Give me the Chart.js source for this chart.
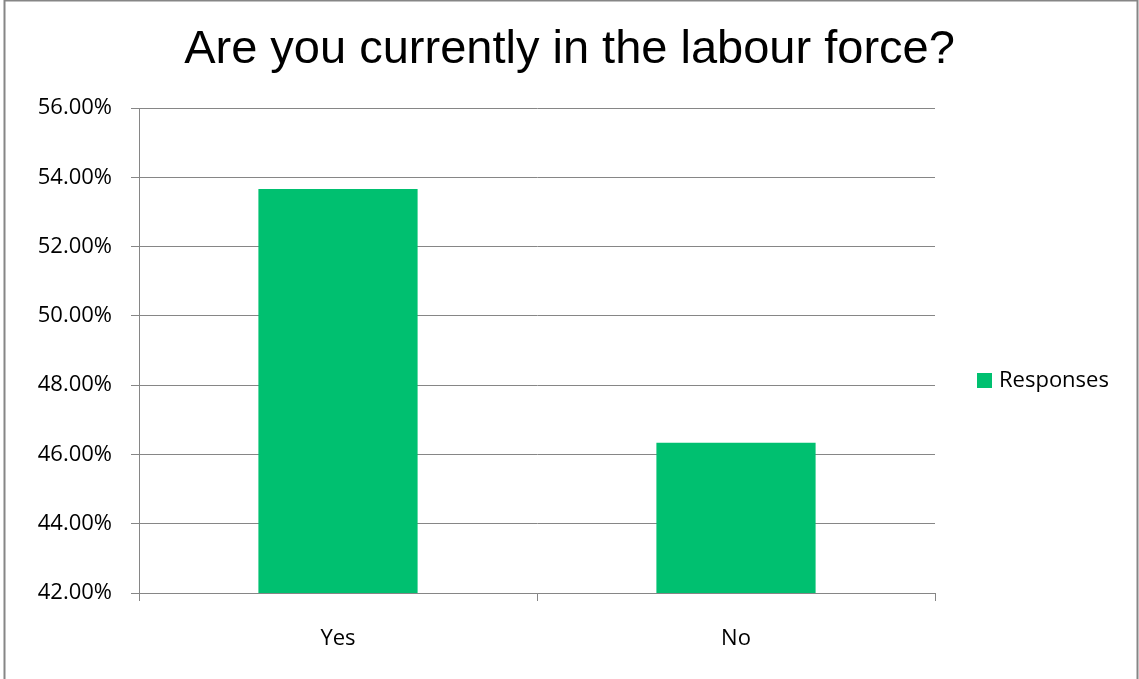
<!DOCTYPE html>
<html>
<head>
<meta charset="utf-8">
<script src="https://cdn.jsdelivr.net/npm/chart.js@4"></script>
<style>
  html, body { margin: 0; padding: 0; background: #fff; }
  #wrap { width: 1139px; height: 679px; }
</style>
</head>
<body>
<div id="wrap"><canvas id="labourChart" width="1139" height="679"></canvas></div>
<script>
// survey answers, share of respondents in %
const categories = ['Yes', 'No'];
const responses = [53.66, 46.34];
const seriesName = 'Responses';

// value axis range
const yMin = 42;
const yMax = 56;
const yStep = 2;

const barColor = '#00C070';
const lineColor = '#868686';
const labelFont = { family: '"Open Sans", sans-serif', size: 22 };

// grey frame around the whole chart
const frame = {
    id: 'frame',
    beforeDraw(chart) {
        const ctx = chart.ctx;
        ctx.save();
        ctx.strokeStyle = lineColor;
        ctx.lineWidth = 2;
        ctx.strokeRect(4.5, 0.5, chart.width - 6, chart.height + 20);
        ctx.restore();
    }
};

// single-entry legend to the right of the plot
const sideLegend = {
    id: 'sideLegend',
    afterDraw(chart) {
        const ctx = chart.ctx;
        const ds = chart.data.datasets[0];
        const x = chart.chartArea.right + 42;
        const cy = 380;
        ctx.save();
        ctx.fillStyle = ds.backgroundColor;
        ctx.fillRect(x, cy - 7, 15, 15);
        ctx.fillStyle = '#000';
        ctx.font = labelFont.size + 'px ' + labelFont.family;
        ctx.textBaseline = 'alphabetic';
        ctx.textAlign = 'left';
        ctx.fillText(ds.label, x + 22, cy + 7);
        ctx.restore();
    }
};

new Chart(document.getElementById('labourChart'), {
    type: 'bar',
    data: {
        labels: categories,
        datasets: [{
            label: seriesName,
            data: responses,
            backgroundColor: barColor,
            barPercentage: 0.8,
            categoryPercentage: 0.5
        }]
    },
    options: {
        responsive: false,
        animation: false,
        layout: { padding: 0 },
        plugins: {
            legend: { display: false },
            tooltip: { enabled: false },
            title: {
                display: true,
                text: 'Are you currently in the labour force?',
                color: '#000',
                font: { family: '"Liberation Sans", Arial, sans-serif', size: 47, weight: 'normal', lineHeight: 1.2 },
                padding: { top: 22, bottom: 29.6 }
            }
        },
        scales: {
            x: {
                grid: {
                    offset: true,
                    drawOnChartArea: false,
                    drawTicks: true,
                    tickLength: 8,
                    color: lineColor
                },
                border: { color: lineColor },
                ticks: { color: '#000', font: labelFont, padding: 25 },
                afterFit(scale) { scale.height = 86; }
            },
            y: {
                min: yMin,
                max: yMax,
                ticks: {
                    stepSize: yStep,
                    color: '#000',
                    font: labelFont,
                    padding: 19,
                    callback: v => v.toFixed(2) + '%'
                },
                grid: { color: lineColor, tickLength: 8 },
                border: { color: lineColor },
                afterFit(scale) { scale.width = 139; }
            },
            // empty strip on the right that holds the legend
            legendSpace: {
                type: 'linear',
                axis: 'y',
                position: 'right',
                grid: { display: false },
                border: { display: false },
                ticks: { display: false },
                afterFit(scale) { scale.width = 204; }
            }
        }
    },
    plugins: [frame, sideLegend]
});
</script>
</body>
</html>
